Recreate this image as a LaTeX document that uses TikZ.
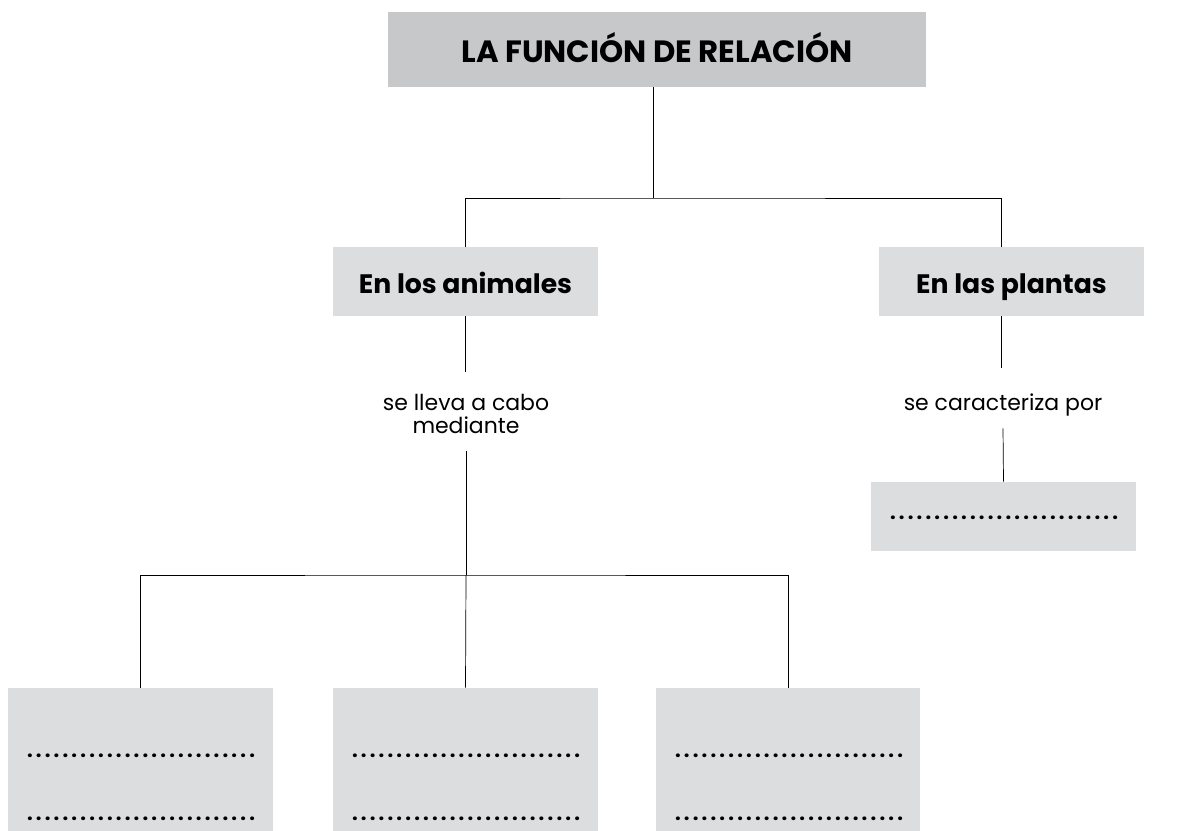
\documentclass[tikz,border=0pt]{standalone}
\usepackage{fontspec}
\setmainfont{Poppins}
\usetikzlibrary{positioning}
\definecolor{titlegray}{HTML}{C7C8CA}
\definecolor{boxgray}{HTML}{DCDDDF}
\newcommand{\blanks}{\makebox[4.66cm]{\bfseries\fontsize{11.5}{12}\selectfont\dotfill}}

\begin{document}
\begin{tikzpicture}[x=0.02cm,y=-0.02cm,
        titlebox/.style={fill=titlegray,inner sep=0pt,minimum width=10.76cm,minimum height=1.5cm,
                         text height=14.8pt,text depth=0pt,
                         font=\bfseries\fontsize{17.5}{20}\selectfont},
        groupbox/.style={fill=boxgray,inner sep=0pt,minimum width=5.3cm,minimum height=1.38cm,
                         text height=14.2pt,text depth=0pt,
                         font=\bfseries\fontsize{15.2}{18}\selectfont},
        blankbox/.style={fill=boxgray,inner sep=0pt,minimum width=5.3cm,minimum height=2.86cm},
        linktext/.style={align=center,inner sep=1pt,font=\fontsize{12.5}{13.5}\selectfont},
        dotrow/.style={inner sep=0pt,anchor=base}]

        \useasboundingbox (0,0) rectangle (1183,831);

        % boxes
        \node[titlebox]  (Title)   at (657,49.5)   {LA FUNCIÓN DE RELACIÓN};
        \node[groupbox]  (Animals) at (465.5,281.5) {En los animales};
        \node[groupbox]  (Plants)  at (1011.5,281.5) {En las plantas};

        \node[linktext]  (Means)   at (466,414)    {se lleva a cabo\\mediante};
        \node[linktext]  (Trait)   at (1003,405)   {se caracteriza por};

        \node[groupbox]  (PlantA)  at (1003.5,516.5) {};
        \node[dotrow]              at (1004,519)   {\blanks};

        \node[blankbox]  (AnimA)   at (140.5,759.5) {};
        \node[blankbox]  (AnimB)   at (465.5,759.5) {};
        \node[blankbox]  (AnimC)   at (788,759.5)   {};
        \node[dotrow]              at (141,757)    {\blanks};
        \node[dotrow]              at (141,820)    {\blanks};
        \node[dotrow]              at (466,757)    {\blanks};
        \node[dotrow]              at (466,820)    {\blanks};
        \node[dotrow]              at (789,757)    {\blanks};
        \node[dotrow]              at (789,820)    {\blanks};

        % connectors
        \coordinate (Top)   at (653,198);
        \coordinate (Split) at (466,575);

        \draw (Title.south -| Top) -- (Top);
        \draw (Animals.north) |- (Top) -| ([xshift=-0.21cm]Plants.north);
        \draw (Animals.south) -- ++(0,56);
        \draw ([yshift=-0.3cm]Means.south) -- (Split);
        \draw (AnimA.north) |- (Split) -| (AnimC.north);
        \draw (Split) -- (AnimB.north);
        \draw ([xshift=-0.21cm]Plants.south) -- ++(0,52);
        \draw ([yshift=-0.2cm]Trait.south) -- (PlantA.north);
\end{tikzpicture}
\end{document}
